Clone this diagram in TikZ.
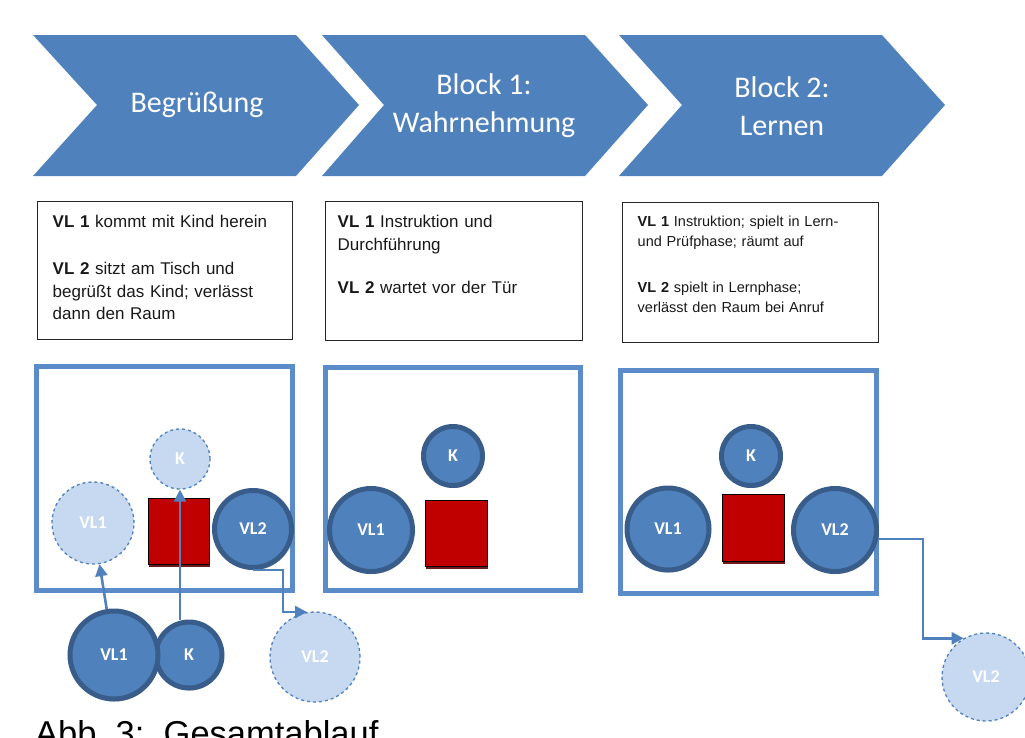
\documentclass[tikz,border=0pt]{standalone}
\usepackage{fontspec}
\setmainfont{Liberation Sans}
\newfontfamily\calibri{Carlito}
\usetikzlibrary{arrows.meta,shadows}

\definecolor{phaseblue}{HTML}{4F81BD}
\definecolor{ringblue}{HTML}{385D8A}
\definecolor{roomblue}{HTML}{5B8BC9}
\definecolor{paleblue}{HTML}{C6D9F1}
\definecolor{deskred}{HTML}{C00000}
\definecolor{deskshade}{HTML}{6E1A1A}

\tikzset{
  phasetext/.style={text=white,align=center,font=\calibri\fontsize{30}{38}\selectfont},
  info/.style={draw=black!85,line width=1pt,inner sep=0pt},
  infotext/.style={anchor=north west,align=left,inner ysep=14pt,text=black!90},
  room/.style={draw=roomblue,line width=5pt},
  person/.style={circle,draw=ringblue,fill=phaseblue,line width=5pt,text=white,
    font=\calibri\bfseries\fontsize{18}{18}\selectfont,
    drop shadow={shadow xshift=1pt,shadow yshift=-2.5pt,opacity=.3,fill=black}},
  ghost/.style={circle,draw=phaseblue,fill=paleblue,dashed,line width=1.3pt,text=white,
    font=\calibri\bfseries\fontsize{18}{18}\selectfont},
  desk/.style={draw=black,fill=deskred,line width=.8pt,inner sep=0pt},
  move/.style={draw=phaseblue,line width=2.6pt,-{Triangle[length=12pt,width=12pt]}}
}

\begin{document}
\begin{tikzpicture}[x=1pt,y=-1pt]
\useasboundingbox (0,0) rectangle (1025,737);
\clip (0,0) rectangle (1025,737);

% phases
\fill[phaseblue] (33,35) -- (296,35) -- (359,105) -- (296,176) -- (33,176) -- (97,105) -- cycle;
\fill[phaseblue] (322,35) -- (585,35) -- (648,105) -- (585,176) -- (322,176) -- (384,105) -- cycle;
\fill[phaseblue] (619,35) -- (882,35) -- (945,105) -- (882,176) -- (619,176) -- (682,105) -- cycle;
\node[phasetext] (greet) at (197,105) {Begrüßung};
\node[phasetext] (block1) at (484,106) {Block 1:\\Wahrnehmung};
\node[phasetext] (block2) at (782,106) {Block 2:\\Lernen};

% descriptions
\node[info,minimum width=255,minimum height=138] (infoA) at (164.5,270) {};
\node[info,minimum width=257,minimum height=139] (infoB) at (453.5,270.5) {};
\node[info,minimum width=256,minimum height=140] (infoC) at (750,272) {};
\node[infotext,inner xsep=16pt,text width=230pt,font=\fontsize{17}{22.5}\selectfont] (txtA) at (infoA.north west)
  {\textbf{VL 1} kommt mit Kind herein\\[25pt]\textbf{VL 2} sitzt am Tisch und\\begrüßt das Kind; verlässt\\dann den Raum};
\node[infotext,inner xsep=13pt,text width=230pt,font=\fontsize{17}{23}\selectfont] (txtB) at (infoB.north west)
  {\textbf{VL 1} Instruktion und\\Durchführung\\[20pt]\textbf{VL 2} wartet vor der Tür};
\node[infotext,inner xsep=16pt,text width=230pt,font=\fontsize{14.5}{20}\selectfont] (txtC) at (infoC.north west)
  {\textbf{VL 1} Instruktion; spielt in Lern-\\und Prüfphase;\ räumt auf\\[26pt]\textbf{VL 2} spielt in Lernphase;\\verlässt den Raum bei Anruf};

% rooms
\draw[room] (36,366) rectangle (292,590);
\draw[room] (325,367) rectangle (580,590);
\draw[room] (620,370) rectangle (876,593);

% greeting
\fill[deskshade] (149,501) rectangle (210,567);
\node[desk,minimum width=61,minimum height=66] (deskA) at (178.5,531) {};
\node[ghost,minimum size=82] (vlA) at (93,523) {VL1};
\node[ghost,minimum size=60] (kA) at (180,459) {K};
\node[person,minimum size=77] (vlbA) at (253,529) {VL2};
\node[person,minimum size=66] (kIn) at (189,655) {K};
\node[person,minimum size=88] (vlaIn) at (114,655) {VL1};
\node[ghost,minimum size=90] (vlbOut) at (315,657) {VL2};
\draw[move] (vlaIn) -- (vlA);
\draw[move] (kA.south |- kIn.north) -- (kA.south);
\draw[move] (vlbA.south) -- ++(30,0) |- (vlbOut.100);

% block 1
\fill[deskshade] (426,503) rectangle (488,569);
\node[desk,minimum width=62,minimum height=66] (deskB) at (456,533) {};
\node[person,minimum size=59] (kB) at (453,456) {K};
\node[person,minimum size=83] (vlaB) at (371,530) {VL1};

% block 2
\fill[deskshade] (723,497) rectangle (785,564);
\node[desk,minimum width=62,minimum height=67] (deskC) at (753,527.5) {};
\node[person,minimum size=59] (kC) at (751,456) {K};
\node[person,minimum size=82] (vlaC) at (668,529) {VL1};
\node[person,minimum size=83] (vlbC) at (835,530) {VL2};
\node[ghost,minimum size=88] (vlbOutC) at (986,677) {VL2};
\draw[move] (vlbC.-12) -- ++(45,0) |- (vlbOutC.120);

% caption
\node[anchor=base west,inner sep=0pt,font=\fontsize{34.5}{40}\selectfont] (caption) at (35,745) {Abb.\ 3:\ \ Gesamtablauf};
\end{tikzpicture}
\end{document}
